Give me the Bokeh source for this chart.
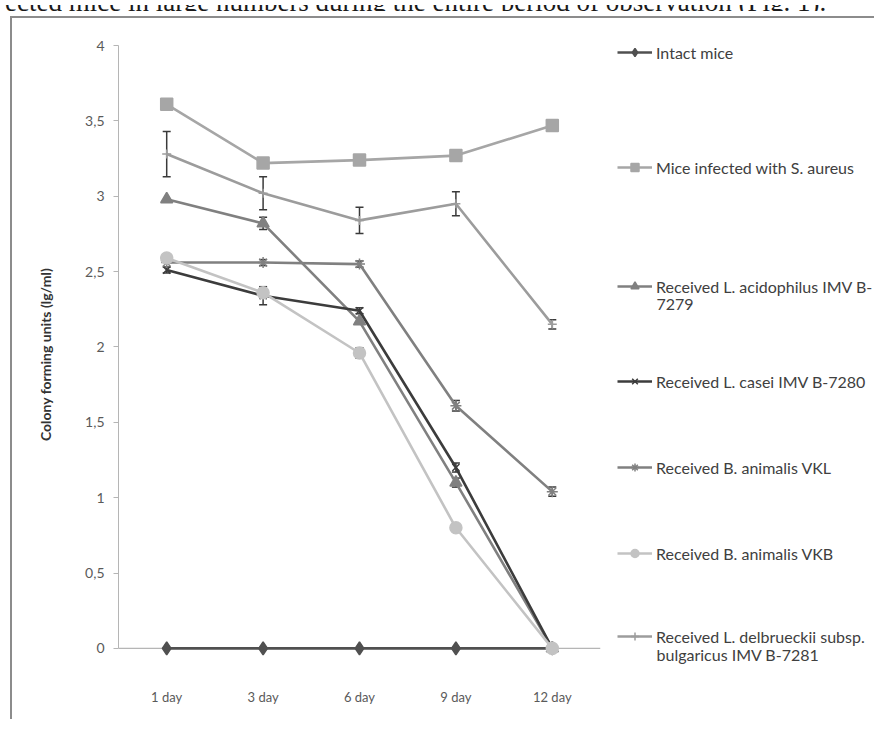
from bokeh.plotting import figure
from bokeh.layouts import column, row
from bokeh.models import (Range1d, FactorRange, Legend, LegendItem, Whisker, Span, Div, Spacer,
                          ColumnDataSource, Label, FixedTicker, TeeHead)
from bokeh.embed import file_html
from bokeh.resources import INLINE

# ---------------- data ----------------
days = ["1 day", "3 day", "6 day", "9 day", "12 day"]
y_ticks = [0, 0.5, 1, 1.5, 2, 2.5, 3, 3.5, 4]
y_tick_labels = ["0", "0,5", "1", "1,5", "2", "2,5", "3", "3,5", "4"]

intact = [0, 0, 0, 0, 0]
s_aureus = [3.61, 3.22, 3.24, 3.27, 3.47]
l_acidophilus = [2.98, 2.82, 2.17, 1.10, 0]
l_casei = [2.51, 2.34, 2.24, 1.20, 0]
b_animalis_vkl = [2.56, 2.56, 2.55, 1.61, 1.04]
b_animalis_vkb = [2.59, 2.36, 1.96, 0.80, 0]
l_delbrueckii = [3.28, 3.02, 2.84, 2.95, 2.15]

err_intact = [0, 0, 0, 0, 0]
err_s_aureus = [0, 0, 0, 0, 0]
err_acidophilus = [0, 0.04, 0, 0.03, 0]
err_casei = [0.02, 0.06, 0.02, 0.03, 0]
err_vkl = [0, 0.02, 0.02, 0.035, 0.03]
err_vkb = [0, 0.02, 0.035, 0, 0]
err_delbrueckii = [0.15, 0.11, 0.087, 0.08, 0.03]

legend_lines = [
    ["Intact mice"],
    ["Mice infected with S. aureus"],
    ["Received L. acidophilus IMV B-", "7279"],
    ["Received L. casei IMV B-7280"],
    ["Received B. animalis VKL"],
    ["Received B. animalis VKB"],
    ["Received L. delbrueckii subsp.", "bulgaricus IMV B-7281"],
]

intro_text = "infected mice in large numbers during the entire period of observation (Fig. 1)."
y_title = "Colony forming units (lg/ml)"

# ---------------- style ----------------
series = [
    (intact, err_intact, "#505050", "diamond", 13),
    (s_aureus, err_s_aureus, "#a6a6a6", "square", 12),
    (l_acidophilus, err_acidophilus, "#808080", "triangle", 12),
    (l_casei, err_casei, "#3c3c3c", "x", 10),
    (b_animalis_vkl, err_vkl, "#808080", "asterisk", 11),
    (b_animalis_vkb, err_vkb, "#c3c3c3", "circle", 12),
    (l_delbrueckii, err_delbrueckii, "#9c9c9c", "cross", 9),
]
# legend layout (canvas pixels in the legend panel, y downwards)
legend_centers = [34, 149, 268, 363, 449, 535, 618]
second_line_gap = 18
NAN = float("nan")

FONT = "Lato"
LEG_SIZE = "16px"
H = 701
W1, W2 = 590, 272
ML, MR = 106, 2
MT, MB = 12, 41            # frame spans canvas rows 12 .. 660
FRAME_BOTTOM = H - MB

p = figure(x_range=FactorRange(factors=days, range_padding=0),
           y_range=Range1d(-0.2, 4.1), title=None,
           width=W1, height=H,
           min_border_left=ML, min_border_right=MR,
           min_border_top=MT, min_border_bottom=MB,
           output_backend="svg", toolbar_location=None)

p.outline_line_color = None
p.xgrid.grid_line_color = None
p.ygrid.grid_line_color = None
p.background_fill_color = "white"
p.border_fill_color = "white"

# y axis
p.yaxis.ticker = FixedTicker(ticks=y_ticks)
p.yaxis.major_label_overrides = {float(t): l for t, l in zip(y_ticks, y_tick_labels)}
p.yaxis.bounds = (0, 4)
p.yaxis.axis_line_color = "#b5b5b5"
p.yaxis.major_tick_line_color = "#b5b5b5"
p.yaxis.major_tick_out = 5
p.yaxis.major_tick_in = 0
p.yaxis.minor_tick_line_color = None
p.yaxis.major_label_text_font = FONT
p.yaxis.major_label_text_font_size = "14px"
p.yaxis.major_label_text_color = "#5a5a5a"
p.yaxis.major_label_standoff = 9
p.yaxis.axis_label = y_title
p.yaxis.axis_label_text_font = FONT
p.yaxis.axis_label_text_font_size = "14px"
p.yaxis.axis_label_text_font_style = "bold"
p.yaxis.axis_label_text_color = "#333333"
p.yaxis.axis_label_standoff = 28

# x axis (labels below; the visible axis line is the zero line)
p.xaxis.axis_line_color = None
p.xaxis.major_tick_line_color = None
p.xaxis.major_tick_out = 0
p.xaxis.major_label_text_font = FONT
p.xaxis.major_label_text_font_size = "13px"
p.xaxis.major_label_text_color = "#5a5a5a"
p.xaxis.major_label_standoff = 10
p.add_layout(Span(location=0, dimension="width", line_color="#b5b5b5",
                  line_width=1.2, level="underlay"))

# legend panel: its frame is aligned with the main frame (rows MT..FRAME_BOTTOM);
# the y range makes data units equal canvas pixels
p2 = figure(width=W2, height=H, x_range=Range1d(0, W2), y_range=Range1d(FRAME_BOTTOM, MT),
            title=None, x_axis_location=None, y_axis_location=None,
            min_border=0, output_backend="svg", toolbar_location=None)
p2.grid.visible = False
p2.outline_line_color = None
p2.background_fill_color = "white"
p2.border_fill_color = "white"

for (vals, errs, color, marker, size), lines, cy in zip(series, legend_lines, legend_centers):
    src = ColumnDataSource(dict(x=days, y=vals))
    p.line("x", "y", source=src, line_color=color, line_width=2.6)
    p.scatter("x", "y", source=src, marker=marker, size=size,
              fill_color=color, line_color=color, line_width=1.5)
    ex = [d for d, e in zip(days, errs) if e > 0]
    if ex:
        lo = [v - e for v, e in zip(vals, errs) if e > 0]
        hi = [v + e for v, e in zip(vals, errs) if e > 0]
        esrc = ColumnDataSource(dict(base=ex, lower=lo, upper=hi))
        p.add_layout(Whisker(base="base", lower="lower", upper="upper", source=esrc,
                             dimension="height", line_color="#3a3a3a", line_width=1.5,
                             upper_head=TeeHead(size=8, line_color="#3a3a3a", line_width=1.5),
                             lower_head=TeeHead(size=8, line_color="#3a3a3a", line_width=1.5)))
    # legend sample renderers (one undrawn NaN point each) in the legend panel
    lr = p2.line(x=[NAN], y=[NAN], line_color=color, line_width=2.6)
    sr = p2.scatter(x=[NAN], y=[NAN], marker=marker, size=size,
                    fill_color=color, line_color=color, line_width=1.5)
    leg = Legend(items=[LegendItem(label=lines[0], renderers=[lr, sr])],
                 location=(15, FRAME_BOTTOM - cy - 10), glyph_width=35, glyph_height=20,
                 label_height=20, label_standoff=4, padding=0, margin=0,
                 border_line_color=None, background_fill_alpha=0,
                 label_text_font=FONT, label_text_font_size=LEG_SIZE,
                 label_text_color="#404040")
    p2.add_layout(leg)
    for k, extra in enumerate(lines[1:], start=1):
        p2.add_layout(Label(x=54, y=cy + k * second_line_gap, text=extra,
                            text_font=FONT, text_font_size=LEG_SIZE,
                            text_color="#404040", text_baseline="middle"))

intro = Div(text=('<div style="position:relative;top:-16px;left:-30px;white-space:nowrap;'
                  'font-family:\'Liberation Serif\';font-size:27px;line-height:27px;'
                  'color:#1a1a1a">' + intro_text + '</div>'),
            width=W1 + W2 + 12, height=6, styles={"overflow": "hidden"})

framed = row(p, p2, styles={"border-left": "2px solid #8c8c8c",
                            "border-top": "2px solid #8c8c8c"})
layout = column(intro, row(Spacer(width=10, height=H), framed))

open("out.html", "w").write(file_html(layout, INLINE))
